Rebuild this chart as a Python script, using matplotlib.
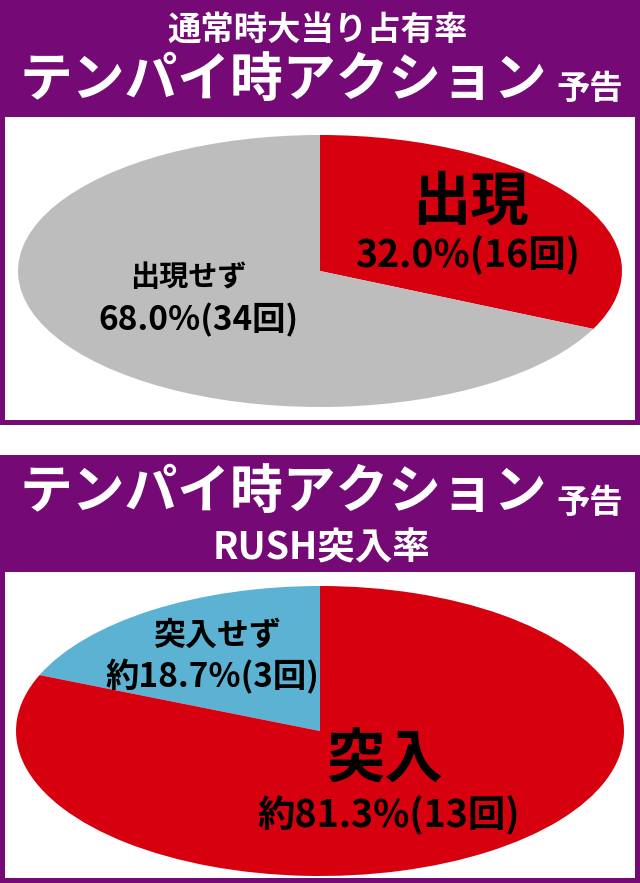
import matplotlib.pyplot as plt
from matplotlib.patches import Rectangle

plt.rcParams['font.family'] = ['Noto Sans CJK JP', 'DejaVu Sans']

W, H = 640, 883
PURPLE = "#750a76"
RED = "#d7000f"
GRAY = "#bdbdbd"
BLUE = "#5bb2d3"

# data
top_labels = ["出現", "出現せず"]
top_values = [32.0, 68.0]
top_counts = [16, 34]
bot_labels = ["突入せず", "突入"]
bot_values = [18.7, 81.3]
bot_counts = [3, 13]

fig = plt.figure(figsize=(W / 100, H / 100), dpi=100)
fig.patch.set_facecolor("white")


def px(x, y):
    return x / W, 1 - y / H


def box(x0, y0, x1, y1, **kw):
    fig.patches.append(Rectangle(px(x0, y1), (x1 - x0) / W, (y1 - y0) / H,
                                 transform=fig.transFigure, zorder=-5, **kw))


def txt(x, y, s, size, color="black", **kw):
    fig.text(*px(x, y), s, fontsize=size, color=color, fontweight="bold",
             ha="center", va="center", **kw)


# panel 1
box(0, 0, 640, 425, facecolor=PURPLE, edgecolor="none")
box(5, 117, 635, 420, facecolor="white", edgecolor="none")
txt(318, 30, "通常時大当り占有率", 24, "white")
txt(283, 80, "テンパイ時アクション", 38, "white")
txt(590, 90, "予告", 24, "white")

ax1 = fig.add_axes([18 / W, 1 - 407 / H, 604 / W, 272 / H])
ax1.pie(top_values, colors=[RED, GRAY], startangle=90, counterclock=False,
        wedgeprops=dict(linewidth=0))
ax1.set_aspect("auto")
ax1.set_xlim(-1, 1); ax1.set_ylim(-1, 1)
ax1.axis("off")

txt(470, 202, top_labels[0], 42)
txt(468, 255, f"{top_values[0]:.1f}%({top_counts[0]}回)", 27)
txt(188, 277, top_labels[1], 21)
txt(198, 320, f"{top_values[1]:.1f}%({top_counts[1]}回)", 24)

# panel 2
box(0, 455, 640, 883, facecolor=PURPLE, edgecolor="none")
box(5, 572, 635, 878, facecolor="white", edgecolor="none")
txt(283, 492, "テンパイ時アクション", 38, "white")
txt(590, 503, "予告", 24, "white")
txt(322, 548, "RUSH突入率", 27, "white")

ax2 = fig.add_axes([16 / W, 1 - 876 / H, 608 / W, 290 / H])
ax2.pie(bot_values, colors=[BLUE, RED], startangle=90, counterclock=True,
        wedgeprops=dict(linewidth=0))
ax2.set_aspect("auto")
ax2.set_xlim(-1, 1); ax2.set_ylim(-1, 1)
ax2.axis("off")

txt(217, 636, bot_labels[0], 23)
txt(212, 677, f"約{bot_values[0]:.1f}%({bot_counts[0]}回)", 24)
txt(385, 760, bot_labels[1], 42)
txt(389, 815, f"約{bot_values[1]:.1f}%({bot_counts[1]}回)", 27)

fig.savefig("out.png", dpi=100)
